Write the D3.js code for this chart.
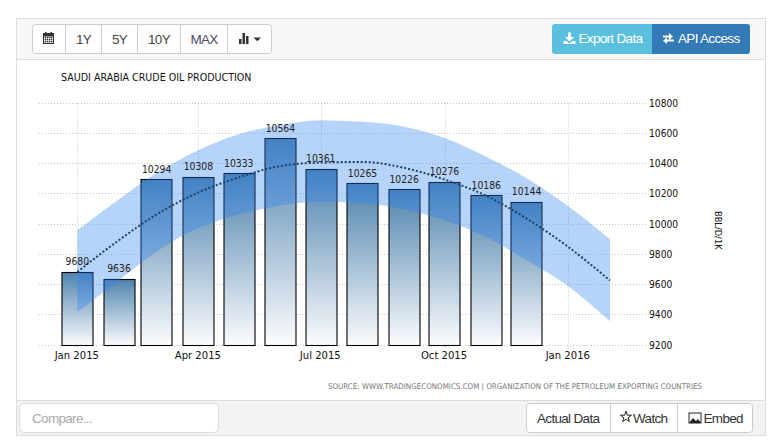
<!DOCTYPE html>
<html><head><meta charset="utf-8">
<script src="https://cdn.jsdelivr.net/npm/d3@7/dist/d3.min.js"></script>
<style>
html,body{margin:0;padding:0;background:#fff;overflow:hidden}
svg{display:block}
text{font-family:"Liberation Sans",Arial,sans-serif}
.b{letter-spacing:-.68px}
.c{font-family:"DejaVu Sans Condensed","DejaVu Sans",sans-serif;font-stretch:condensed}
</style></head><body><svg id="c" width="779" height="443"></svg>
<script>
const months=["2015-01-01","2015-02-01","2015-03-01","2015-04-01","2015-05-01","2015-06-01","2015-07-01","2015-08-01","2015-09-01","2015-10-01","2015-11-01","2015-12-01"];
const production=[9680,9636,10294,10308,10333,10564,10361,10265,10226,10276,10186,10144];
const forecastMonths=["2015-01-01","2015-02-01","2015-03-01","2015-04-01","2015-05-01","2015-06-01","2015-07-01","2015-08-01","2015-09-01","2015-10-01","2015-11-01","2015-12-01","2016-01-01","2016-02-01"];
const forecast=[9680,9890,10060,10205,10305,10380,10403,10407,10368,10291,10183,10033,9845,9623];
const upperBand=[9956,10160,10335,10485,10590,10650,10682,10672,10640,10565,10442,10300,10114,9896];
const lowerBand=[9415,9625,9815,9970,10058,10118,10143,10134,10094,10022,9911,9757,9585,9354];
const yTicks=[9200,9400,9600,9800,10000,10200,10400,10600,10800];
const xTicks=["2015-01-01","2015-04-01","2015-07-01","2015-10-01","2016-01-01"];
const xTickLabels=["Jan 2015","Apr 2015","Jul 2015","Oct 2015","Jan 2016"];
const rangeButtons=["1Y","5Y","10Y","MAX"];
const title="SAUDI ARABIA CRUDE OIL PRODUCTION";
const sourceText="SOURCE: WWW.TRADINGECONOMICS.COM | ORGANIZATION OF THE PETROLEUM EXPORTING COUNTRIES";

const P=d3.utcParse("%Y-%m-%d");
const svg=d3.select("#c");
const x=d3.scaleUtc().domain([P("2015-01-01"),P("2016-01-01")]).range([77.3,568.3]);
const y=d3.scaleLinear().domain([9200,10800]).range([344.5,102.5]);
const defs=svg.append("defs");
const rect=(a,b,w,h,f,s,r)=>svg.append("rect").attr("x",a).attr("y",b).attr("width",w).attr("height",h).attr("fill",f||"none").attr("stroke",s||"none").attr("rx",r||0);
const txt=(t,a,b,o={})=>svg.append("text").text(t).attr("x",a).attr("y",b).attr("font-size",o.size||13.5).attr("fill",o.fill||"#333").attr("text-anchor",o.anchor||"start").attr("class",o.cls===undefined?"b":o.cls);

// panel
rect(16.5,18.5,749,417,"#fff","#ddd");
rect(17,19,748,40,"#f8f8f8");
svg.append("line").attr("x1",17).attr("x2",765).attr("y1",59.5).attr("y2",59.5).attr("stroke","#ddd");
rect(17,401,748,34,"#f3f3f3");
svg.append("line").attr("x1",17).attr("x2",765).attr("y1",400.5).attr("y2",400.5).attr("stroke","#ddd");

// toolbar
rect(32.5,24.5,239,29,"#fff","#ccc",3);
[65.5,101.5,137.5,180.5,227.5].forEach(v=>svg.append("line").attr("x1",v).attr("x2",v).attr("y1",25).attr("y2",53).attr("stroke","#ccc"));
[[83.5],[119.5],[159],[204]].forEach((p,i)=>txt(rangeButtons[i],p[0],43.5,{anchor:"middle",fill:i==3?"#4a4a6a":"#444"}));
// calendar icon
rect(43,33,11,11,"#333");
rect(44,36.5,9,6.5,"#fff");
for(let i=0;i<3;i++)for(let j=0;j<4;j++)rect(44.6+j*2.1,37+i*2,1.5,1.4,"#333");
rect(45,32,1.5,2,"#333");rect(50.5,32,1.5,2,"#333");
// bar icon
rect(239,39,2.5,5,"#333");rect(242.5,33,2.5,11,"#333");rect(246,36,2.5,8,"#333");
svg.append("path").attr("d","M253.5 37.5h7.5l-3.75 3.8z").attr("fill","#333");

// buttons top right
svg.append("path").attr("d","M652 24H555a3 3 0 0 0-3 3V51a3 3 0 0 0 3 3H652z").attr("fill","#5bc0de");
svg.append("path").attr("d","M652 24H747a3 3 0 0 1 3 3V51a3 3 0 0 1-3 3H652z").attr("fill","#337ab7");
svg.append("path").attr("d","M568 32.5h3v4.5h3l-4.5 4.5-4.5-4.5h3zM563.5 41h3l3 2.5 3-2.5h3v3h-12z").attr("fill","#fff");
txt("Export Data",578.5,43,{fill:"#fff"});
svg.append("path").attr("d","M663 35.5h6v-2.5l4 3.5-4 3.5v-2.5h-6zM674 39.5v2h-7v2.5l-4-3.3 4-3.2v2z").attr("fill","#fff");
txt("API Access",678,43,{fill:"#fff"});

// grid
const grid=svg.append("g").attr("stroke","#c8c8c8").attr("stroke-dasharray","1,2");
yTicks.forEach(v=>grid.append("line").attr("x1",39).attr("x2",648).attr("y1",Math.round(y(v))+.5).attr("y2",Math.round(y(v))+.5));
xTicks.forEach(v=>grid.append("line").attr("x1",Math.round(x(P(v)))+.5).attr("x2",Math.round(x(P(v)))+.5).attr("y1",102.5).attr("y2",349));

// bars
months.forEach((m,i)=>{
  const cx=Math.round(x(P(m))-.2)+.5;
  const id="b"+i;
  const q=defs.append("linearGradient").attr("id",id).attr("x1",0).attr("x2",0).attr("y1",0).attr("y2",1);
  q.append("stop").attr("offset",0).attr("stop-color","#4f83ad");
  q.append("stop").attr("offset",1).attr("stop-color","#fbfcfe");
  svg.append("rect").attr("x",cx-15.5).attr("y",Math.round(y(production[i]))+.5)
   .attr("width",31).attr("height",Math.round(y(9200))-Math.round(y(production[i])))
   .attr("fill",`url(#${id})`).attr("stroke","#000").attr("stroke-width",1.1);
});

// band
const fx=d=>x(P(d));
const area=d3.area().curve(d3.curveMonotoneX).x((d,i)=>fx(forecastMonths[i])).y0((d,i)=>y(lowerBand[i])).y1((d,i)=>y(upperBand[i]));
svg.append("path").attr("d",area(forecastMonths)).attr("fill","#2f80f0").attr("fill-opacity",.35);
const line=d3.line().curve(d3.curveMonotoneX).x((d,i)=>fx(forecastMonths[i])).y(d=>y(d));
svg.append("path").attr("d",line(forecast)).attr("fill","none").attr("stroke","#1f3f66").attr("stroke-width",2).attr("stroke-dasharray","2,2");

// bar labels
months.forEach((m,i)=>txt(production[i],x(P(m)),y(production[i])-6.5,{anchor:"middle",size:10.3,fill:"#222",cls:"c"}));

// axes
yTicks.forEach(v=>txt(v,649,y(v)+4,{size:10.2,fill:"#111",cls:"c"}));
xTicks.forEach((v,i)=>txt(xTickLabels[i],x(P(v))-.5,359,{anchor:"middle",size:11.2,fill:"#111",cls:"c"}));
txt(title,61,81,{size:10.6,fill:"#111",cls:"c"});
svg.append("text").text("BBL/D/1K").attr("class","c").attr("transform","translate(715,211) rotate(90)").attr("font-size",9.2).attr("fill","#111");
txt(sourceText,328,389,{size:7.92,fill:"#777",cls:"c"});

// footer
rect(19.5,403.5,199,29,"#fff","#ddd",4);
txt("Compare...",32,422.5,{fill:"#aaa"});
rect(526.5,403.5,226,29,"#fff","#ccc",3);
[610.5,677.5].forEach(v=>svg.append("line").attr("x1",v).attr("x2",v).attr("y1",404).attr("y2",432).attr("stroke","#ccc"));
txt("Actual Data",537,422.5);
svg.append("path").attr("d",d3.symbol(d3.symbolStar,38)()).attr("transform","translate(626,417)").attr("fill","#fff").attr("stroke","#222").attr("stroke-width",1);
txt("Watch",633,422.5);
rect(689,413,12,10,"#fff","#222");
svg.append("path").attr("d","M689 423l4-5 3 3 2-2 3 4z").attr("fill","#222");
txt("Embed",703.5,422.5);
</script></body></html>
